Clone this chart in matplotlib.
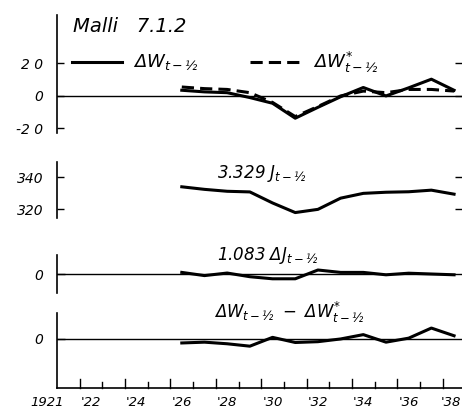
#python3

#import libraries
import numpy as np
import matplotlib
matplotlib.use('Agg')
import matplotlib.pyplot as plt

plt.rcParams['font.family'] = 'DejaVu Sans'
plt.rcParams['font.style'] = 'italic'
plt.rcParams['mathtext.fontset'] = 'dejavusans'
plt.rcParams['mathtext.default'] = 'it'

#data (points sit at mid-year)
years = [1926, 1927, 1928, 1929, 1930, 1931, 1932, 1933, 1934, 1935, 1936, 1937, 1938]
dw = [3.5, 2.5, 2.0, -1.0, -4.5, -13.7, -7.0, -0.5, 5.2, 0.0, 5.0, 10.3, 3.5]
dw_star = [5.5, 4.5, 4.0, 2.0, -4.0, -12.7, -6.5, 0.0, 3.0, 2.0, 4.0, 4.0, 3.0]
j_scaled = [334.1, 332.5, 331.3, 330.9, 324.0, 318.0, 320.0, 327.0, 330.0, 330.7, 331.0, 332.0, 329.5]
dj_scaled = [1.0, -1.0, 0.6, -1.7, -3.0, -3.0, 2.5, 1.0, 1.0, -0.5, 0.5, 0.0, -0.5]
dw_diff = [-2.5, -2.0, -3.0, -4.5, 1.0, -2.2, -1.7, 0.0, 2.7, -2.0, 0.5, 6.8, 2.0]

x_labels = ["1921", "'22", "'24", "'26", "'28", "'30", "'32", "'34", "'36", "'38"]
x_label_years = [1921, 1922, 1924, 1926, 1928, 1930, 1932, 1934, 1936, 1938]

xpos = np.array(years) + 0.5
xmin, xmax = 1921, 1938.85

W, H = 462, 413
fig = plt.figure(figsize=(W/100, H/100), dpi=100)

def make_ax(top_px, bot_px):
    ax = fig.add_axes([57/W, 1 - bot_px/H, (W-57)/W, (bot_px-top_px)/H])
    for s in ['top', 'right', 'bottom']:
        ax.spines[s].set_visible(False)
    ax.spines['left'].set_linewidth(1.2)
    ax.set_xlim(xmin, xmax)
    ax.set_xticks([])
    ax.tick_params(axis='y', direction='in', length=6, width=1, pad=10, labelsize=10)
    ax.patch.set_alpha(0)
    return ax

lw = 2.2

#panel 1: wages
ax1 = make_ax(15, 133)
ax1.set_ylim(-22.8, 49.8)
ax1.set_yticks([20, 0, -20])
ax1.set_yticklabels(['2 0', '0', '-2 0'])
ax1.tick_params(axis='y', right=True, length=5)
ax1.axhline(0, color='k', lw=1)
ax1.plot(xpos, dw, 'k-', lw=lw)
ax1.plot(xpos, dw_star, 'k--', lw=lw, dashes=(4, 2))
ax1.text(1921.7, 43, 'Malli   7.1.2', fontsize=14, va='center')
ax1.plot([1921.65, 1923.85], [20.7, 20.7], 'k-', lw=lw)
ax1.text(1924.35, 20.7, r'$\Delta W_{t-½}$', fontsize=13, va='center')
ax1.plot([1929.5, 1931.95], [20.7, 20.7], 'k--', lw=lw, dashes=(4, 2))
ax1.text(1932.3, 20.7, r'$\Delta W^{*}_{t-½}$', fontsize=13, va='center')

#panel 2: J
ax2 = make_ax(162, 218)
ax2.set_ylim(314.6, 349.6)
ax2.set_yticks([340, 320])
ax2.tick_params(axis='y', right=True, length=5)
ax2.plot(xpos, j_scaled, 'k-', lw=lw)
ax2.text(1928.05, 342.5, r'$3.329\ J_{t-½}$', fontsize=12, va='center')

#panel 3: delta J
ax3 = make_ax(255, 293)
ax3.set_ylim(-11.9, 11.9)
ax3.set_yticks([0])
ax3.axhline(0, color='k', lw=1)
ax3.plot(xpos, dj_scaled, 'k-', lw=lw)
ax3.text(1928.05, 11.5, r'$1.083\ \Delta J_{t-½}$', fontsize=12, va='center')

#panel 4: difference
ax4 = make_ax(313, 388)
ax4.set_ylim(-30.6, 16.2)
ax4.set_yticks([0])
ax4.spines['bottom'].set_visible(True)
ax4.spines['bottom'].set_linewidth(1.2)
ax4.axhline(0, color='k', lw=1)
ax4.plot(xpos, dw_diff, 'k-', lw=lw)
ax4.text(1927.9, 17.0, r'$\Delta W_{t-½}\ -\ \Delta W^{*}_{t-½}$', fontsize=12, va='center')

#year ticks on the bottom axis
for yr in range(1922, 1939):
    tl = 9 if yr % 2 == 0 else 6
    ax4.plot([yr, yr], [0, tl/73], color='k', lw=1, transform=ax4.get_xaxis_transform(), clip_on=False)
for yr, lab in zip(x_label_years, x_labels):
    trans = ax4.get_xaxis_transform()
    if yr == 1921:
        ax4.text(1921.3, -0.19, lab, ha='right', va='center', fontsize=9.5, transform=trans)
    elif yr == 1938:
        ax4.text(xmax - 0.04, -0.19, lab, ha='right', va='center', fontsize=9.5, transform=trans)
    else:
        ax4.text(yr + 0.05, -0.19, lab, ha='left', va='center', fontsize=9.5, transform=trans)

plt.savefig('out.png', dpi=100)
